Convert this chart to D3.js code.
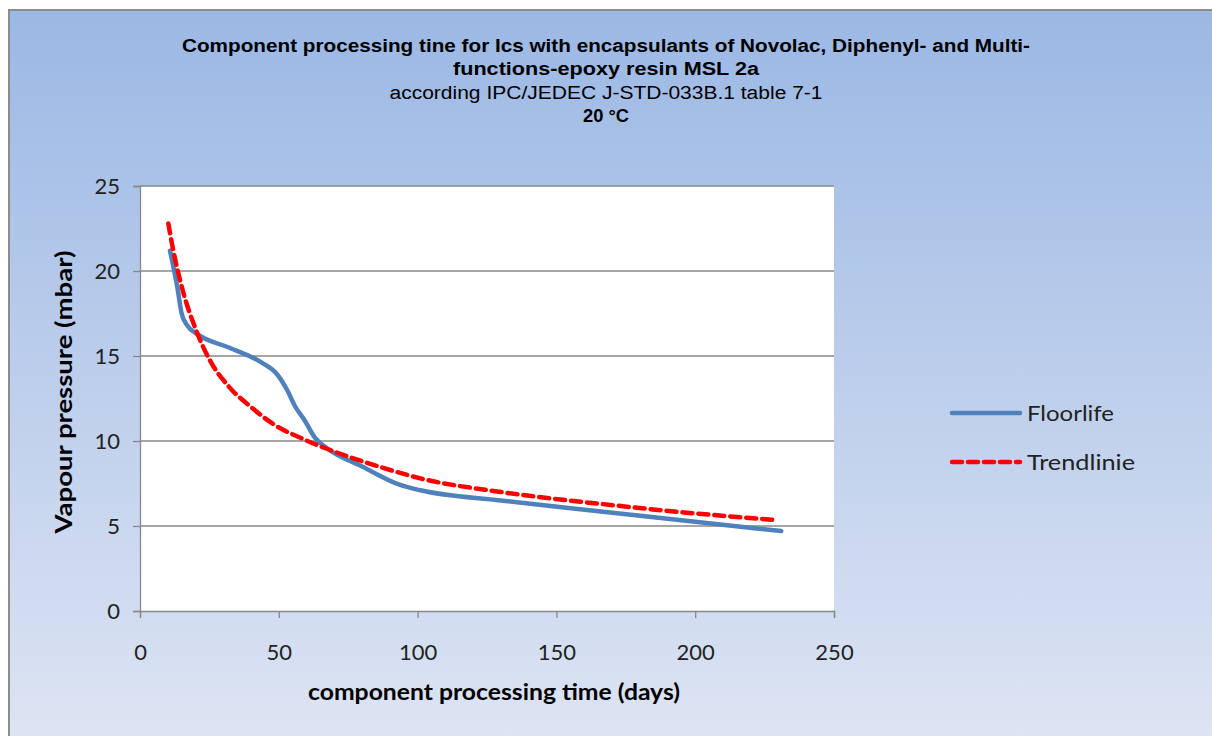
<!DOCTYPE html>
<html>
<head>
<meta charset="utf-8">
<script src="https://cdn.jsdelivr.net/npm/d3@7"></script>
<style>
  body { margin: 0; background: #fff; }
  svg { display: block; }
</style>
</head>
<body>
<svg id="chart" width="1212" height="736"></svg>
<script>
// Werte
var floorlifeTage = [10.8, 13.5, 15, 17, 20.5, 32, 44, 49, 53, 56, 59, 63, 68, 80, 94, 101, 130, 166, 200, 231];
var floorlifeDruck = [21.2, 19.0, 17.5, 16.8, 16.3, 15.5, 14.6, 14.0, 13.0, 12.0, 11.3, 10.2, 9.5, 8.5, 7.4, 7.1, 6.5, 5.85, 5.25, 4.7];
var trendTage = [10.2, 12, 15, 20, 25, 32, 40, 48, 59, 68, 86, 101, 130, 166, 196, 229];
var trendDruck = [22.8, 21.2, 19.1, 16.6, 14.8, 13.2, 12.0, 11.0, 10.1, 9.5, 8.5, 7.8, 7.0, 6.3, 5.8, 5.35];
var xTicks = [0, 50, 100, 150, 200, 250];
var yTicks = [0, 5, 10, 15, 20, 25];
var titelZeilen = [
    "Component processing tine for Ics with encapsulants  of Novolac, Diphenyl- and Multi-",
    "functions-epoxy resin  MSL 2a",
    "according IPC/JEDEC J-STD-033B.1 table 7-1",
    "20 °C"
];
var serien = [
    { name: "Floorlife", x: floorlifeTage, y: floorlifeDruck },
    { name: "Trendlinie", x: trendTage, y: trendDruck }
];

const svg = d3.select("#chart");

// Hintergrund mit Verlauf
var defs = svg.append("defs");
var grad = defs.append("linearGradient")
    .attr("id", "bg").attr("x1", 0).attr("y1", 0).attr("x2", 0).attr("y2", 1);
grad.append("stop").attr("offset", "0%").attr("stop-color", "#9bb8e4");
grad.append("stop").attr("offset", "100%").attr("stop-color", "#e0e6f4");

svg.append("rect")
    .attr("x", 9).attr("y", 10)
    .attr("width", 1230).attr("height", 760)
    .attr("fill", "url(#bg)")
    .attr("stroke", "#8c8c8c")
    .attr("stroke-width", 2);

// Titel (Breiten aus dem Bild)
var titel = svg.append("g").attr("font-family", "Liberation Sans, Arial, sans-serif").attr("fill", "#000");
var titelY = [52, 75, 99, 122];
var titelBreite = [848, 306, 433, 46];
titelZeilen.forEach(function (t, i) {
    titel.append("text")
        .attr("x", 606).attr("y", titelY[i])
        .attr("text-anchor", "middle")
        .attr("font-size", 18)
        .attr("font-weight", i == 2 ? "normal" : "bold")
        .attr("textLength", titelBreite[i])
        .attr("lengthAdjust", "spacingAndGlyphs")
        .text(t);
});

// Plotbereich
const pLeft = 140, pRight = 834, pTop = 186, pBottom = 611;
var x = d3.scaleLinear().domain([0, 250]).range([pLeft, pRight]);
var y = d3.scaleLinear().domain([0, 25]).range([pBottom, pTop]);

svg.append("rect")
    .attr("x", pLeft).attr("y", pTop)
    .attr("width", pRight - pLeft).attr("height", pBottom - pTop)
    .attr("fill", "#fff");

// Gitterlinien
svg.append("g").selectAll("line")
    .data(yTicks.filter(d => d > 0))
    .enter().append("line")
    .attr("x1", pLeft).attr("x2", pRight)
    .attr("y1", d => y(d)).attr("y2", d => y(d))
    .attr("stroke", "#888").attr("stroke-width", 1.3);

var achsenFont = "Lato, 'Open Sans', sans-serif";

var xAxis = svg.append("g")
    .attr("transform", "translate(0," + pBottom + ")")
    .call(d3.axisBottom(x).tickValues(xTicks).tickSize(7).tickPadding(26));
var yAxis = svg.append("g")
    .attr("transform", "translate(" + pLeft + ",0)")
    .call(d3.axisLeft(y).tickValues(yTicks).tickSize(7).tickPadding(13));

[xAxis, yAxis].forEach(function (a) {
    a.select(".domain").attr("stroke", "#888").attr("stroke-width", 1.3);
    a.selectAll(".tick line").attr("stroke", "#888").attr("stroke-width", 1.3);
    a.selectAll(".tick text")
        .attr("font-family", achsenFont)
        .attr("font-size", 22)
        .attr("fill", "#222");
});
yAxis.selectAll(".tick text").attr("dy", "0.35em");

// Achsentitel
svg.append("text")
    .attr("x", 494).attr("y", 700)
    .attr("text-anchor", "middle")
    .attr("font-family", achsenFont)
    .attr("font-size", 22).attr("font-weight", "bold")
    .attr("textLength", 372).attr("lengthAdjust", "spacingAndGlyphs")
    .text("component processing time (days)");
svg.append("text")
    .attr("transform", "translate(72,392) rotate(-90)")
    .attr("text-anchor", "middle")
    .attr("font-family", achsenFont)
    .attr("font-size", 22).attr("font-weight", "bold")
    .attr("textLength", 283).attr("lengthAdjust", "spacingAndGlyphs")
    .text("Vapour pressure (mbar)");

// Linien
const lineGenerator = d3.line()
    .x(d => x(d[0]))
    .y(d => y(d[1]))
    .curve(d3.curveMonotoneX);

var stile = [
    { farbe: "#4f81bd", dash: null },
    { farbe: "#ff0000", dash: "10,6" }
];

serien.forEach(function (s, i) {
    var pts = s.x.map((v, j) => [v, s.y[j]]);
    svg.append("path")
        .attr("d", lineGenerator(pts))
        .attr("fill", "none")
        .attr("stroke", stile[i].farbe)
        .attr("stroke-width", 4.5)
        .attr("stroke-linecap", "round")
        .attr("stroke-dasharray", stile[i].dash);
});

// Legende
var legende = svg.append("g");
var legBreite = [87, 108];
serien.forEach(function (s, i) {
    var ly = 413 + i * 49;
    legende.append("line")
        .attr("x1", 952).attr("x2", 1020)
        .attr("y1", ly).attr("y2", ly)
        .attr("stroke", stile[i].farbe)
        .attr("stroke-width", 4.5)
        .attr("stroke-linecap", "round")
        .attr("stroke-dasharray", stile[i].dash);
    legende.append("text")
        .attr("x", 1027).attr("y", ly)
        .attr("dy", "0.35em")
        .attr("font-family", achsenFont)
        .attr("font-size", 22)
        .attr("fill", "#222")
        .attr("textLength", legBreite[i]).attr("lengthAdjust", "spacingAndGlyphs")
        .text(s.name);
});
</script>
</body>
</html>
